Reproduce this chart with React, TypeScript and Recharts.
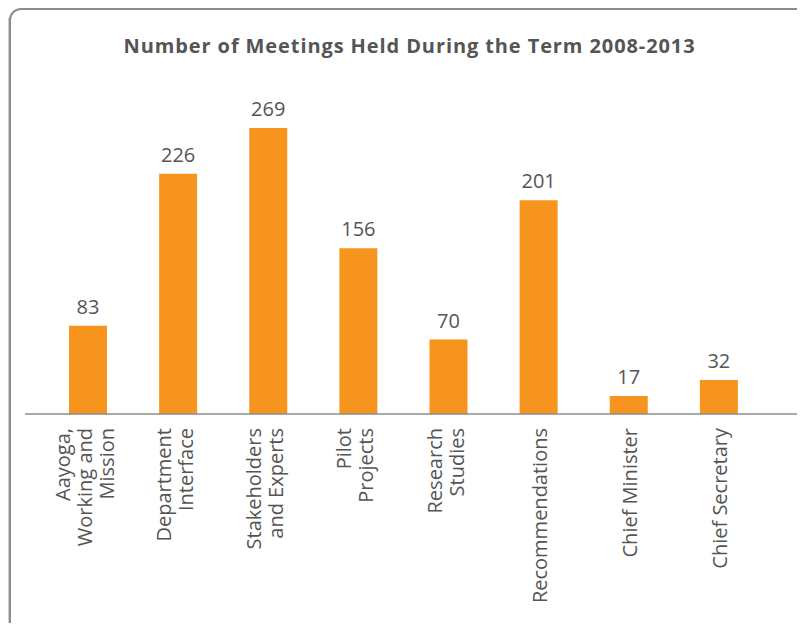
import { BarChart, Bar, XAxis, YAxis, LabelList } from 'recharts'

const categories = [
  'Aayoga,\nWorking and\nMission',
  'Department\nInterface',
  'Stakeholders\nand Experts',
  'Pilot\nProjects',
  'Research\nStudies',
  'Recommendations',
  'Chief Minister',
  'Chief Secretary',
]

const meetings = [83, 226, 269, 156, 70, 201, 17, 32]

const data = categories.map((name, i) => ({ name, value: meetings[i] }))

const FONT = '"Open Sans", sans-serif'
const TEXT = '#555555'

function CategoryTick({ x, y, payload }: any) {
  const lines = String(payload.value).split('\n')
  const lh = 22
  const shift = lines.length > 1 ? 4 : 8
  return (
    <g transform={`translate(${x},${y})`}>
      <text transform="rotate(-90)" textAnchor="end" fill={TEXT} fontSize={20} fontFamily={FONT}>
        {lines.map((line, i) => (
          <tspan key={i} x={-14} y={(i - (lines.length - 1) / 2) * lh + shift}>
            {line}
          </tspan>
        ))}
      </text>
    </g>
  )
}

export default function App() {
  return (
    <div style={{ position: 'relative', width: 805, height: 631, margin: -8, overflow: 'hidden', background: '#fff' }}>
      <div
        style={{
          position: 'absolute',
          left: 9,
          top: 8,
          width: 798,
          height: 640,
          border: '2px solid #8c8c8c',
          borderRadius: 12,
          boxShadow: '-6px 8px 0 #d2d2d2',
        }}
      />
      <div
        style={{
          position: 'absolute',
          left: 0,
          top: 34,
          width: 819,
          textAlign: 'center',
          fontFamily: FONT,
          fontWeight: 700,
          fontSize: 20,
          letterSpacing: 0.9,
          lineHeight: '24px',
          color: TEXT,
        }}
      >
        Number of Meetings Held During the Term 2008-2013
      </div>
      <div style={{ position: 'absolute', left: 0, top: 0 }}>
        <BarChart width={805} height={631} data={data} margin={{ top: 128, right: 5, left: 25, bottom: 0 }}>
          <YAxis hide domain={[0, 269]} />
          <XAxis
            dataKey="name"
            height={217}
            interval={0}
            padding={{ left: 18, right: 36 }}
            axisLine={{ stroke: '#8c8c8c', strokeWidth: 1.5 }}
            tickLine={false}
            tickSize={0}
            tickMargin={0}
            tick={<CategoryTick />}
          />
          <Bar dataKey="value" fill="#F7941D" barSize={38} isAnimationActive={false}>
            <LabelList dataKey="value" position="top" offset={12} fill={TEXT} fontSize={20} fontFamily={FONT} />
          </Bar>
        </BarChart>
      </div>
    </div>
  )
}
